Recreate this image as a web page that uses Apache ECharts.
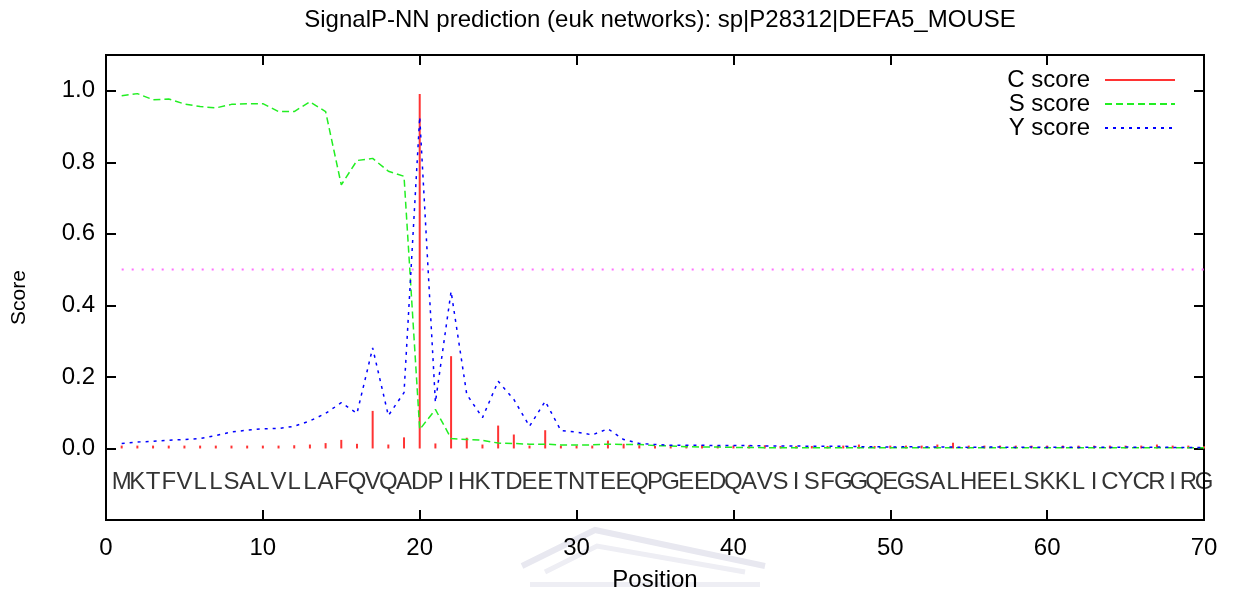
<!DOCTYPE html>
<html>
<head>
<meta charset="utf-8">
<title>SignalP-NN prediction</title>
<script src="https://cdn.jsdelivr.net/npm/echarts@6/dist/echarts.min.js"></script>
<style>
  html, body { margin: 0; padding: 0; background: #fff; }
  #chart { width: 1233px; height: 597px; }
</style>
</head>
<body>
<div id="chart"></div>
<script>
// sequence, one residue per position (1..70)
const sequence = 'MKTFVLLSALVLLAFQVQADPIHKTDEETNTEEQPGEEDQAVSISFGGQEGSALHEELSKKLICYCRIRG'.split('')

// C score (red impulses)
const cScore = [
  0.008, 0.008, 0.008, 0.008, 0.008, 0.008, 0.008, 0.008, 0.008, 0.008,
  0.008, 0.009, 0.011, 0.015, 0.024, 0.013, 0.105, 0.011, 0.031, 0.991,
  0.014, 0.258, 0.030, 0.011, 0.064, 0.039, 0.008, 0.051, 0.008, 0.008,
  0.008, 0.022, 0.013, 0.009, 0.007, 0.009, 0.009, 0.009, 0.008, 0.008,
  0.009, 0.009, 0.007, 0.007, 0.007, 0.007, 0.008, 0.011, 0.007, 0.008,
  0.008, 0.008, 0.011, 0.016, 0.008, 0.008, 0.008, 0.008, 0.008, 0.008,
  0.008, 0.008, 0.008, 0.008, 0.008, 0.008, 0.011, 0.008, 0.008, 0.006
]

// S score (green dashed)
const sScore = [
  0.986, 0.992, 0.975, 0.977, 0.963, 0.956, 0.952, 0.962, 0.964, 0.964,
  0.942, 0.942, 0.969, 0.942, 0.737, 0.805, 0.811, 0.775, 0.761, 0.053,
  0.109, 0.028, 0.025, 0.023, 0.015, 0.014, 0.012, 0.012, 0.010, 0.010,
  0.010, 0.012, 0.011, 0.011, 0.008, 0.007, 0.005, 0.004, 0.004, 0.003,
  0.003, 0.002, 0.002, 0.002, 0.002, 0.002, 0.002, 0.002, 0.002, 0.002,
  0.002, 0.002, 0.002, 0.002, 0.002, 0.002, 0.002, 0.002, 0.002, 0.002,
  0.002, 0.002, 0.002, 0.002, 0.002, 0.002, 0.002, 0.002, 0.002, 0.002
]

// Y score (blue dotted)
const yScore = [
  0.014, 0.018, 0.020, 0.023, 0.025, 0.028, 0.036, 0.046, 0.051, 0.055,
  0.056, 0.062, 0.077, 0.098, 0.128, 0.098, 0.281, 0.092, 0.156, 0.927,
  0.129, 0.439, 0.151, 0.086, 0.188, 0.137, 0.062, 0.132, 0.050, 0.046,
  0.038, 0.055, 0.025, 0.014, 0.011, 0.009, 0.009, 0.009, 0.008, 0.008,
  0.008, 0.007, 0.007, 0.007, 0.006, 0.006, 0.006, 0.005, 0.005, 0.004,
  0.005, 0.004, 0.004, 0.004, 0.003, 0.004, 0.004, 0.003, 0.004, 0.003,
  0.004, 0.003, 0.004, 0.003, 0.004, 0.003, 0.004, 0.003, 0.003, 0.003
]

// cutoff drawn as the magenta dotted line
const cutoff = 0.5

const xTicks = [0, 10, 20, 30, 40, 50, 60, 70]
const yTicks = [0.0, 0.2, 0.4, 0.6, 0.8, 1.0]

const positions = sequence.map((s, i) => i + 1)
const pair = (arr) => arr.map((v, i) => [positions[i], v])

const font = "'Liberation Sans', Arial, sans-serif"
const chart = echarts.init(document.getElementById('chart'))

const hideSymbol = { opacity: 0 }

const option = {
  animation: false,
  backgroundColor: '#fff',
  title: {
    text: 'SignalP-NN prediction (euk networks): sp|P28312|DEFA5_MOUSE',
    left: 655,
    top: 3,
    textAlign: 'center',
    textStyle: { fontFamily: font, fontSize: 24, fontWeight: 'normal', color: '#000' }
  },
  legend: {
    orient: 'vertical',
    align: 'right',
    right: 52,
    top: 63,
    itemWidth: 70,
    itemHeight: 14,
    itemGap: 0,
    textStyle: { fontFamily: font, fontSize: 24, lineHeight: 24, color: '#000', padding: [0, 10, 0, 0] },
    data: [
      { name: 'C score', icon: 'path://M0,0H70V2H0Z' },
      { name: 'S score', itemStyle: hideSymbol },
      { name: 'Y score', itemStyle: hideSymbol }
    ]
  },
  grid: {
    left: 106, right: 29, top: 55, bottom: 77,
    show: true, borderColor: '#000', borderWidth: 2, backgroundColor: 'transparent'
  },
  xAxis: [{
    type: 'value',
    min: 0, max: 70, interval: 10,
    name: 'Position',
    nameLocation: 'middle',
    nameGap: 48,
    nameTextStyle: { fontFamily: font, fontSize: 24, color: '#000' },
    axisLine: { onZero: false, lineStyle: { color: '#000', width: 2 } },
    axisTick: { inside: true, length: 10, lineStyle: { color: '#000', width: 2 } },
    axisLabel: {
      margin: 16, fontFamily: font, fontSize: 24, color: '#000',
      formatter: (v) => xTicks.includes(v) ? String(v) : ''
    },
    splitLine: { show: false }
  }, {
    type: 'value', position: 'top',
    min: 0, max: 70, interval: 10,
    axisLine: { onZero: false, lineStyle: { color: '#000', width: 2 } },
    axisTick: { inside: true, length: 10, lineStyle: { color: '#000', width: 2 } },
    axisLabel: { show: false },
    splitLine: { show: false }
  }],
  yAxis: [{
    type: 'value',
    min: -0.2, max: 1.1, interval: 0.2,
    name: 'Score',
    nameLocation: 'middle',
    nameGap: 76,
    nameTextStyle: { fontFamily: font, fontSize: 21, color: '#000', padding: [0, 20, 0, 0] },
    axisLine: { onZero: false, lineStyle: { color: '#000', width: 2 } },
    axisTick: { inside: true, length: 10, lineStyle: { color: '#000', width: 2 } },
    axisLabel: {
      margin: 11, fontFamily: font, fontSize: 24, color: '#000',
      formatter: (v) => yTicks.some(t => Math.abs(t - v) < 1e-6) ? v.toFixed(1) : ''
    },
    splitLine: { show: false }
  }, {
    type: 'value', position: 'right',
    min: -0.2, max: 1.1, interval: 0.2,
    axisLine: { onZero: false, lineStyle: { color: '#000', width: 2 } },
    axisTick: { inside: true, length: 10, lineStyle: { color: '#000', width: 2 } },
    axisLabel: { show: false },
    splitLine: { show: false }
  }],
  graphic: [
    // faint watermark behind the axis name
    {
      type: 'group', silent: true, z: -10,
      children: [
        { type: 'polyline', shape: { points: [[522, 566], [595, 530], [765, 566]] }, style: { stroke: '#e8e8f0', lineWidth: 6, fill: null } },
        { type: 'polyline', shape: { points: [[545, 572], [597, 546], [745, 572]] }, style: { stroke: '#eeeef4', lineWidth: 5, fill: null } },
        { type: 'rect', shape: { x: 530, y: 582, width: 230, height: 5 }, style: { fill: '#eeeef4' } }
      ]
    }
  ],
  series: [
    {
      name: 'C score',
      type: 'bar',
      barWidth: 2,
      itemStyle: { color: '#ff3333' },
      data: pair(cScore)
    },
    {
      name: 'S score',
      type: 'line',
      symbol: 'none',
      lineStyle: { color: '#22ee22', width: 1.5, type: [7, 4] },
      itemStyle: { color: '#22ee22' },
      data: pair(sScore)
    },
    {
      name: 'Y score',
      type: 'line',
      symbol: 'none',
      lineStyle: { color: '#0000ff', width: 1.5, type: [3, 5] },
      itemStyle: { color: '#0000ff' },
      data: pair(yScore)
    },
    {
      name: 'cutoff',
      type: 'line',
      symbol: 'none',
      lineStyle: { color: '#ff70ff', width: 2, type: [2, 8] },
      data: [[positions[0], cutoff], [positions[positions.length - 1], cutoff]]
    },
    {
      name: 'sequence',
      type: 'scatter',
      symbolSize: 0,
      silent: true,
      label: {
        show: true,
        position: 'inside',
        fontFamily: font,
        fontSize: 24,
        color: '#000',
        formatter: (p) => p.data[2]
      },
      data: sequence.map((s, i) => [positions[i], -0.095, s])
    }
  ]
}

chart.setOption(option)
</script>
</body>
</html>
